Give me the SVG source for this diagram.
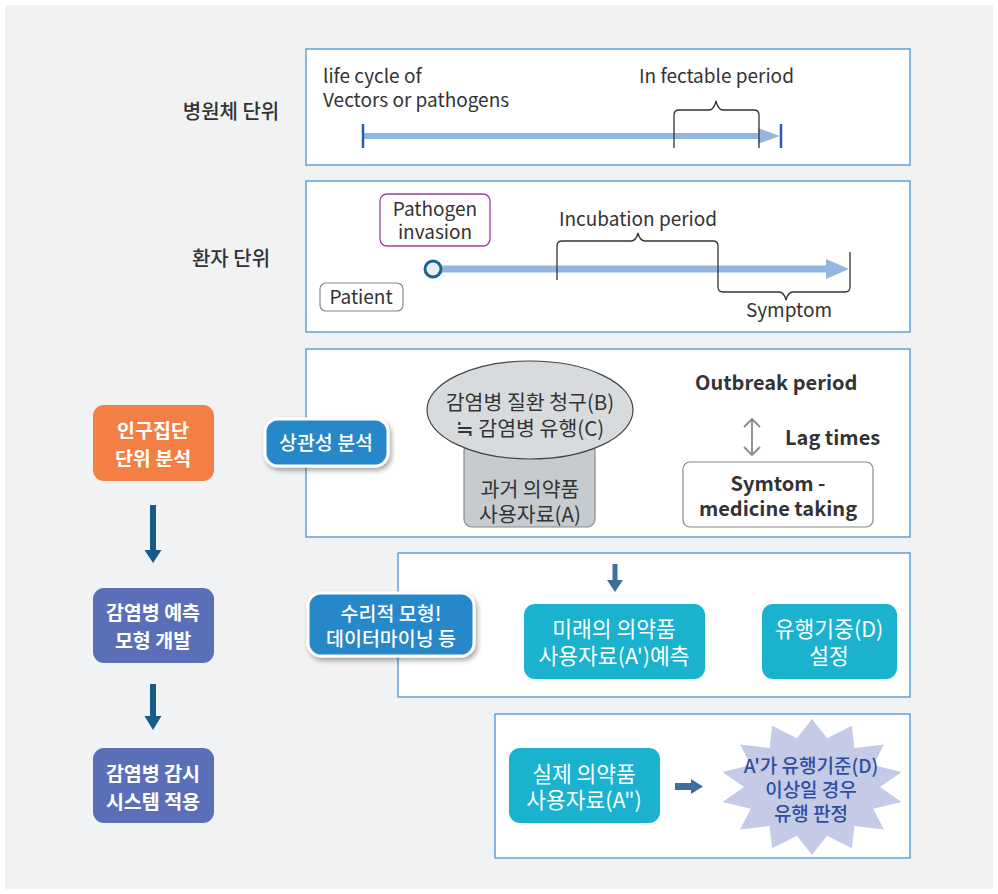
<svg xmlns="http://www.w3.org/2000/svg" width="998" height="894" viewBox="0 0 998 894">
<defs>
<style>
text{font-family:"Noto Sans CJK KR","Noto Sans",sans-serif;}
.panel{fill:#fff;stroke:#4a94d4;stroke-width:1.3;}
.en{font-size:19px;fill:#333;}
.enb{font-size:20px;fill:#333;font-weight:700;}
.lbl{font-size:20px;fill:#333;font-weight:500;}
.wb{font-size:19.5px;fill:#fff;font-weight:700;text-anchor:middle;}
.wr{font-size:19.5px;fill:#fff;font-weight:500;text-anchor:middle;}
.tl{font-size:21.5px;fill:#fff;text-anchor:middle;}
.kr{font-size:20.5px;fill:#333;text-anchor:middle;}
.bar{fill:#93b6e0;}
.brace{fill:none;stroke:#333;stroke-width:1.3;}
.teal{fill:#1ab2cf;}
.badge{fill:#2688c9;stroke:#fff;stroke-width:3;filter:url(#sh);}
</style>
<filter id="sh" x="-20%" y="-30%" width="150%" height="170%">
<feDropShadow dx="2" dy="3" stdDeviation="2.5" flood-color="#000" flood-opacity="0.35"/>
</filter>
</defs>
<rect x="0" y="0" width="998" height="894" fill="#fff"/>
<rect x="5" y="5" width="988" height="884" fill="#f0f2f4"/>

<g id="label-pathogen-unit"><text class="lbl" x="231" y="119" text-anchor="middle">병원체 단위</text></g>
<g id="label-patient-unit"><text class="lbl" x="231" y="266" text-anchor="middle">환자 단위</text></g>

<g id="panel1">
<rect class="panel" x="306" y="49" width="604" height="116"/>
<text class="en" x="323" y="83">life cycle of</text>
<text class="en" x="323" y="107">Vectors or pathogens</text>
<text class="en" x="639" y="83">In fectable period</text>
<rect class="bar" x="363" y="133" width="397" height="6"/>
<polygon class="bar" points="758,128 780,136 758,144"/>
<line x1="363" y1="124" x2="363" y2="148" stroke="#2a5ca8" stroke-width="2.5"/>
<line x1="781" y1="124" x2="781" y2="148" stroke="#2a5ca8" stroke-width="2.5"/>
<path class="brace" d="M674,148 V115 Q674,110 679,110 H709 Q714,110 716,101 Q718,110 723,110 H754 Q759,110 759,115 V148"/>
</g>

<g id="panel2">
<rect class="panel" x="306" y="181" width="604" height="151"/>
<rect class="bar" x="441" y="265.5" width="387" height="7"/>
<polygon class="bar" points="826,259 849,269 826,279"/>
<path class="brace" d="M557,280 V246 Q557,241 562,241 H631 Q636,241 638,233 Q640,241 645,241 H713 Q718,241 718,246 V287 Q718,292 723,292 H779 Q784,292 786,300 Q788,292 793,292 H845 Q850,292 850,287 V252"/>
<text class="en" x="638" y="226" text-anchor="middle">Incubation period</text>
<text class="en" x="789" y="317" text-anchor="middle">Symptom</text>
</g>
<g id="pathogen-invasion">
<rect x="380" y="194" width="110" height="52" rx="7" fill="#fff" stroke="#a03c9c" stroke-width="1.3"/>
<text class="en" x="435" y="216" text-anchor="middle">Pathogen</text>
<text class="en" x="435" y="239" text-anchor="middle">invasion</text>
</g>
<g id="invasion-point"><circle cx="433" cy="269" r="8" fill="#e8edf2" stroke="#1f6390" stroke-width="3"/></g>
<g id="patient">
<rect x="320" y="283" width="83" height="28" rx="6" fill="#fff" stroke="#888" stroke-width="1.2"/>
<text class="en" x="361" y="304" text-anchor="middle">Patient</text>
</g>

<g id="panel3">
<rect class="panel" x="306" y="349" width="604" height="188"/>
</g>
<g id="past-data">
<rect x="464" y="443" width="131" height="84" rx="8" fill="#c6cbd0" stroke="#888" stroke-width="1.2"/>
<text class="kr" x="530" y="497">과거 의약품</text>
<text class="kr" x="530" y="522">사용자료(A)</text>
</g>
<g id="claims">
<ellipse cx="530" cy="410" rx="103" ry="49" fill="#d8dbde" stroke="#444" stroke-width="1.2"/>
<text class="kr" x="530" y="410">감염병 질환 청구(B)</text>
<text class="kr" x="530" y="436">≒ 감염병 유행(C)</text>
</g>
<g id="outbreak">
<text class="enb" x="695" y="390">Outbreak period</text>
</g>
<g id="lag">
<text class="enb" x="785" y="445">Lag times</text>
</g>
<g id="symtom-medicine">
<rect x="683" y="462" width="190" height="65" rx="7" fill="#fff" stroke="#888" stroke-width="1.2"/>
<text class="enb" x="778" y="491" text-anchor="middle">Symtom -</text>
<text class="enb" x="778" y="516" text-anchor="middle">medicine taking</text>
</g>

<g id="panel4"><rect class="panel" x="398" y="553" width="512" height="144"/></g>
<g id="panel5"><rect class="panel" x="495" y="714" width="415" height="144"/></g>

<g id="step1">
<rect x="93" y="405" width="121" height="76" rx="11" fill="#f47f45"/>
<text class="wb" x="153" y="438">인구집단</text>
<text class="wb" x="153" y="466">단위 분석</text>
</g>
<g id="step2">
<rect x="93" y="588" width="121" height="75" rx="11" fill="#5a6fb8"/>
<text class="wb" x="153" y="620">감염병 예측</text>
<text class="wb" x="153" y="648">모형 개발</text>
</g>
<g id="step3">
<rect x="93" y="748" width="121" height="75" rx="11" fill="#5a6fb8"/>
<text class="wb" x="153" y="781">감염병 감시</text>
<text class="wb" x="153" y="809">시스템 적용</text>
</g>

<g id="badge-correlation">
<rect class="badge" x="265" y="419" width="123" height="47" rx="13"/>
<text class="wr" x="326" y="450">상관성 분석</text>
</g>
<g id="badge-model">
<rect class="badge" x="308" y="593" width="166" height="63" rx="13"/>
<text class="wr" x="391" y="621">수리적 모형!</text>
<text class="wr" x="391" y="646">데이터마이닝 등</text>
</g>

<g id="future-data">
<rect class="teal" x="524" y="604" width="181" height="75" rx="11"/>
<text class="tl" x="614" y="637">미래의 의약품</text>
<text class="tl" x="614" y="664">사용자료(A')예측</text>
</g>
<g id="threshold">
<rect class="teal" x="762" y="604" width="135" height="75" rx="11"/>
<text class="tl" x="829" y="637">유행기중(D)</text>
<text class="tl" x="829" y="664">설정</text>
</g>
<g id="actual-data">
<rect class="teal" x="509" y="748" width="151" height="75" rx="11"/>
<text class="tl" x="584" y="782">실제 의약품</text>
<text class="tl" x="584" y="808">사용자료(A")</text>
</g>
<g id="judgement">
<polygon points="812,719 827.1,738.3 851.9,725.7 854.4,747.9 883.9,744.6 873.3,765.3 901.7,771.9 880,787 901.7,802.1 873.3,808.7 883.9,829.4 854.4,826.1 851.9,848.3 827.1,835.7 812,855 796.9,835.7 772.1,848.3 769.6,826.1 740.1,829.4 750.7,808.7 722.3,802.1 744,787 722.3,771.9 750.7,765.3 740.1,744.6 769.6,747.9 772.1,725.7 796.9,738.3" fill="#c5cae6"/>
<text x="811" y="773" text-anchor="middle" font-size="19" font-weight="500" fill="#2d4f9f">A'가 유행기준(D)</text>
<text x="811" y="797" text-anchor="middle" font-size="19" font-weight="500" fill="#2d4f9f">이상일 경우</text>
<text x="811" y="821" text-anchor="middle" font-size="19" font-weight="500" fill="#2d4f9f">유행 판정</text>
</g>

<g id="connectors">
<rect x="150" y="505" width="6" height="47" fill="#1a5a8a"/>
<polygon points="144.5,550 161.5,550 153,563" fill="#1a5a8a"/>
<rect x="150" y="684" width="6" height="34" fill="#1a5a8a"/>
<polygon points="144.5,716 161.5,716 153,730" fill="#1a5a8a"/>
<rect x="612.5" y="564" width="5" height="17" fill="#3f6f9f"/>
<polygon points="607,580 623,580 615,592" fill="#3f6f9f"/>
<rect x="675" y="783" width="17" height="7" fill="#3f6f9f"/>
<polygon points="691,779 703,786.5 691,794" fill="#3f6f9f"/>
<g stroke="#888" stroke-width="1.8" fill="none">
<line x1="752" y1="419" x2="752" y2="455"/>
<polyline points="744,427 752,419 760,427"/>
<polyline points="744,447 752,455 760,447"/>
</g>
</g>
</svg>
